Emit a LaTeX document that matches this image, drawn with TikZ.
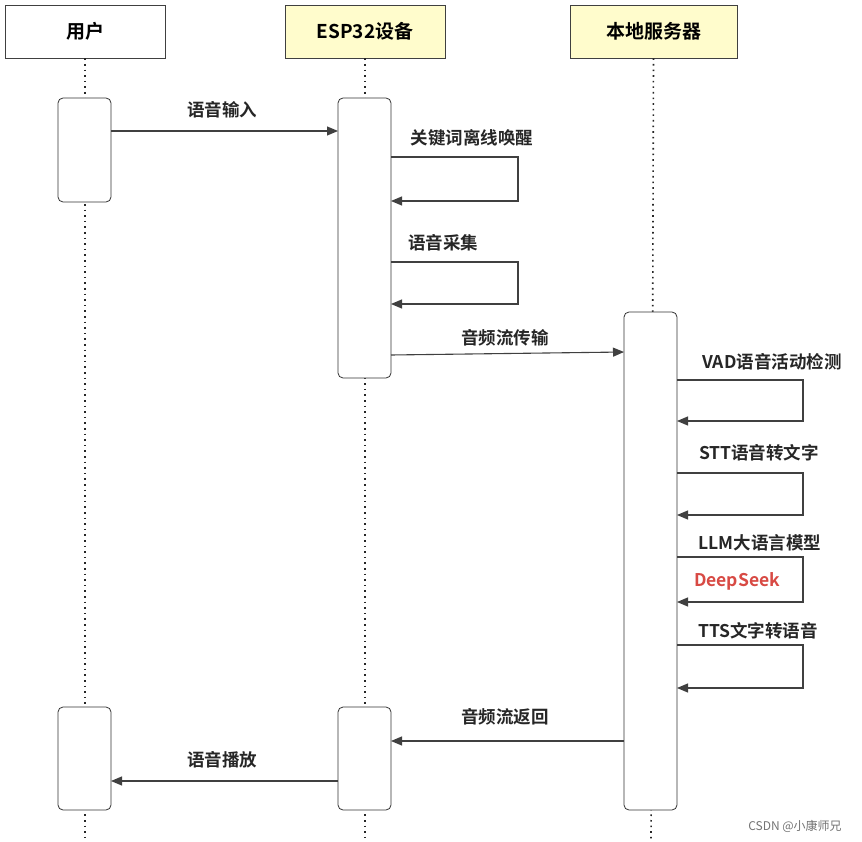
\documentclass[tikz,border=0pt]{standalone}
\usepackage{fontspec}
\setmainfont{Noto Sans CJK SC}[BoldFont={* Bold}]
\usetikzlibrary{arrows.meta}
\definecolor{dsred}{HTML}{D84A44}
\begin{document}
\begin{tikzpicture}[x=1pt,y=-1pt,
 lab/.style={font=\fontsize{17.5}{20}\selectfont\bfseries,text=black!85,inner sep=1pt},
 hdr/.style={draw=black!75,line width=0.8pt,minimum width=160pt,minimum height=53pt,font=\fontsize{19}{22}\selectfont\bfseries},
 act/.style={draw=black!80,line width=0.8pt,rounded corners=5pt,fill=white},
 life/.style={line width=1.6pt,dash pattern=on 1.6pt off 4pt,black!85},
 msg/.style={line width=1.1pt,black!75,-{Triangle[length=11pt,width=9pt]}}]
\useasboundingbox (0,0) rectangle (862,842);
\node[hdr,fill=white] (u) at (85,31.5) {用户};
\node[hdr,fill=yellow!20] (e) at (365,31.5) {ESP32设备};
\node[hdr,fill=yellow!20,minimum width=167pt] (s) at (653.5,31.5) {本地服务器};
\draw[life] (u.south) -- (85,842);
\draw[life] (e.south) -- (365,842);
\draw[life] (s.south) -- (651,842);
\draw[act] (58,98) rectangle (111,202);
\draw[act] (58,707) rectangle (111,810);
\draw[act] (338,98) rectangle (391,378);
\draw[act] (338,707) rectangle (391,810);
\draw[act] (624,312) rectangle (677,810);
\coordinate (a1) at (111,131); \coordinate (a2) at (338,131);
\draw[msg] (a1) -- (a2); \node[lab] (l1) at (222,110) {语音输入};
\draw[msg] (391,157) -- (518,157) -- (518,201) -- (391,201);
\node[lab] (l2) at (472,138) {关键词离线唤醒};
\draw[msg] (391,262) -- (518,262) -- (518,304) -- (391,304);
\node[lab] (l3) at (443,243) {语音采集};
\draw[msg] (391,355) -- (624,352); \node[lab] (l4) at (505,338) {音频流传输};
\draw[msg] (677,380) -- (803,380) -- (803,421) -- (677,421);
\node[lab] (l5) at (772,362) {VAD语音活动检测};
\draw[msg] (677,473) -- (803,473) -- (803,515) -- (677,515);
\node[lab] (l6) at (759,453) {STT语音转文字};
\draw[msg] (677,557) -- (803,557) -- (803,602) -- (677,602);
\node[lab,fill=white] (l7) at (760,543) {LLM大语言模型};
\node[lab,fill=white,text=dsred,inner sep=2pt] (l7b) at (737,581) {DeepSeek};
\draw[msg] (677,645) -- (803,645) -- (803,688) -- (677,688);
\node[lab] (l8) at (758,631) {TTS文字转语音};
\draw[msg] (624,741) -- (391,741); \node[lab] (l9) at (505,717) {音频流返回};
\draw[msg] (338,781) -- (111,781); \node[lab] (l10) at (222,760) {语音播放};
\node[font=\fontsize{12}{14}\selectfont,text=black!55] (w) at (795,826) {CSDN @小康师兄};
\end{tikzpicture}
\end{document}
